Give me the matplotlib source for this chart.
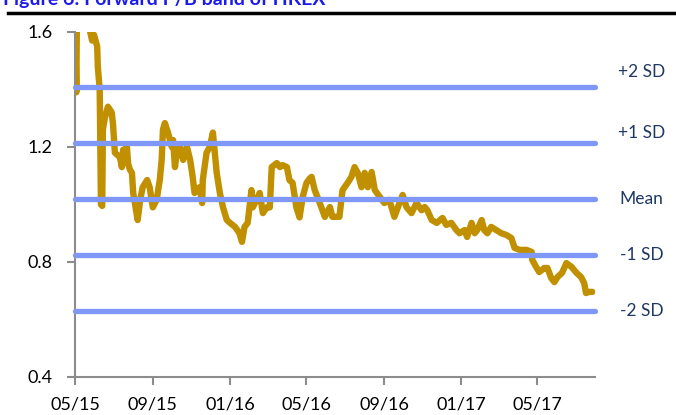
import matplotlib
matplotlib.use("Agg")
import matplotlib.pyplot as plt
import matplotlib.dates as mdates
import pandas as pd

plt.rcParams['font.family'] = ['Lato', 'DejaVu Sans']

# forward P/B series
dates = [
    "2015-05-01", "2015-05-03", "2015-05-04", "2015-05-14", "2015-05-22", "2015-05-25",
    "2015-05-28", "2015-05-31", "2015-06-05", "2015-06-06", "2015-06-09", "2015-06-11",
    "2015-06-13", "2015-06-14", "2015-06-17", "2015-06-22", "2015-06-25", "2015-06-28",
    "2015-06-30", "2015-07-03", "2015-07-08", "2015-07-11", "2015-07-14", "2015-07-16",
    "2015-07-19", "2015-07-22", "2015-07-24", "2015-07-27", "2015-07-30", "2015-08-01",
    "2015-08-04", "2015-08-08", "2015-08-12", "2015-08-16", "2015-08-23", "2015-08-27",
    "2015-09-01", "2015-09-07", "2015-09-12", "2015-09-15", "2015-09-17", "2015-09-20",
    "2015-09-25", "2015-10-01", "2015-10-03", "2015-10-06", "2015-10-09", "2015-10-14",
    "2015-10-19", "2015-10-25", "2015-10-30", "2015-11-03", "2015-11-06", "2015-11-14",
    "2015-11-18", "2015-11-19", "2015-11-25", "2015-11-30", "2015-12-05", "2015-12-08",
    "2015-12-11", "2015-12-16", "2015-12-21", "2015-12-27", "2016-01-01", "2016-01-09",
    "2016-01-16", "2016-01-20", "2016-01-24", "2016-01-29", "2016-02-04", "2016-02-06",
    "2016-02-12", "2016-02-17", "2016-02-22", "2016-02-28", "2016-03-04", "2016-03-07",
    "2016-03-15", "2016-03-20", "2016-03-24", "2016-03-31", "2016-04-04", "2016-04-09",
    "2016-04-15", "2016-04-20", "2016-04-25", "2016-05-01", "2016-05-06", "2016-05-09",
    "2016-05-14", "2016-05-22", "2016-05-30", "2016-06-07", "2016-06-11", "2016-06-22",
    "2016-06-27", "2016-07-05", "2016-07-11", "2016-07-16", "2016-07-21", "2016-07-27",
    "2016-08-01", "2016-08-06", "2016-08-12", "2016-08-17", "2016-08-25", "2016-09-01",
    "2016-09-09", "2016-09-17", "2016-09-25", "2016-09-30", "2016-10-06", "2016-10-14",
    "2016-10-22", "2016-10-30", "2016-11-04", "2016-11-08", "2016-11-15", "2016-11-23",
    "2016-12-02", "2016-12-08", "2016-12-16", "2016-12-24", "2016-12-29", "2017-01-06",
    "2017-01-10", "2017-01-17", "2017-01-22", "2017-01-26", "2017-02-02", "2017-02-06",
    "2017-02-11", "2017-02-17", "2017-02-25", "2017-03-05", "2017-03-13", "2017-03-21",
    "2017-03-26", "2017-04-03", "2017-04-14", "2017-04-22", "2017-04-23", "2017-04-29",
    "2017-05-04", "2017-05-12", "2017-05-17", "2017-05-23", "2017-05-28", "2017-06-02",
    "2017-06-09", "2017-06-16", "2017-06-24", "2017-07-02", "2017-07-09", "2017-07-14",
    "2017-07-17", "2017-07-22", "2017-07-27",
]
pb = [
    1.65, 1.39, 1.66, 1.70, 1.63, 1.60,
    1.57, 1.59, 1.55, 1.48, 1.40, 1.00,
    0.995, 1.26, 1.30, 1.34, 1.33, 1.32,
    1.28, 1.18, 1.17, 1.165, 1.13, 1.19,
    1.19, 1.20, 1.14, 1.12, 1.11, 1.04,
    1.00, 0.946, 1.016, 1.06, 1.085, 1.06,
    0.99, 1.016, 1.085, 1.155, 1.26, 1.283,
    1.25, 1.20, 1.224, 1.13, 1.18, 1.20,
    1.155, 1.20, 1.155, 1.096, 1.04, 1.06,
    1.005, 1.085, 1.18, 1.20, 1.25, 1.18,
    1.11, 1.04, 0.99, 0.946, 0.936, 0.922,
    0.90, 0.87, 0.922, 0.936, 1.05, 0.99,
    1.016, 1.04, 0.97, 0.99, 0.99, 1.13,
    1.144, 1.13, 1.137, 1.13, 1.085, 1.075,
    0.99, 0.955, 1.026, 1.075, 1.09, 1.096,
    1.05, 1.005, 0.957, 0.991, 0.957, 0.957,
    1.05, 1.075, 1.096, 1.13, 1.11, 1.06,
    1.11, 1.06, 1.113, 1.05, 1.026, 1.005,
    1.016, 0.957, 1.005, 1.033, 0.991, 0.97,
    1.005, 0.98, 0.991, 0.98, 0.946, 0.936,
    0.953, 0.929, 0.936, 0.911, 0.90, 0.911,
    0.887, 0.936, 0.90, 0.911, 0.946, 0.911,
    0.90, 0.922, 0.911, 0.90, 0.894, 0.883,
    0.849, 0.842, 0.842, 0.835, 0.807, 0.783,
    0.765, 0.779, 0.779, 0.744, 0.73, 0.748,
    0.762, 0.796, 0.783, 0.762, 0.748, 0.727,
    0.692, 0.696, 0.696,
]

band_names = ["+2 SD", "+1 SD", "Mean", "-1 SD", "-2 SD"]
band_values = [1.41, 1.215, 1.02, 0.825, 0.63]
label_y = [1.46, 1.25, 1.02, 0.825, 0.63]

x = pd.to_datetime(dates)

fig = plt.figure(figsize=(6.76, 4.15), dpi=100)
ax = fig.add_axes([0.111, 0.0916, 0.769, 0.8314])

ax.plot(x, pb, color="#C09000", lw=4.6, solid_joinstyle="round",
        solid_capstyle="round", zorder=2)

for v, name, ly in zip(band_values, band_names, label_y):
    ax.axhline(v, color="#7F98F7", lw=3.8, solid_capstyle="round",
               clip_on=False, zorder=3)
    ax.text(1.09, ly, name, transform=ax.get_yaxis_transform(),
            ha="center", va="center", fontsize=12.5, color="#1F3864")

ax.set_xlim(pd.Timestamp("2015-05-01"), pd.Timestamp("2017-07-31"))
ax.set_ylim(0.4, 1.6)
ax.set_yticks([0.4, 0.8, 1.2, 1.6])
ax.set_yticklabels(["0.4", "0.8", "1.2", "1.6"])
ax.xaxis.set_major_locator(mdates.MonthLocator(bymonth=[1, 5, 9]))
ax.xaxis.set_major_formatter(mdates.DateFormatter("%m/%y"))

for s in ["top", "right"]:
    ax.spines[s].set_visible(False)
for s in ["left", "bottom"]:
    ax.spines[s].set_color("#8C8C8C")
    ax.spines[s].set_linewidth(1.5)
ax.tick_params(axis="both", colors="#8C8C8C", width=1.5, length=6,
               labelcolor="black", labelsize=13)
ax.tick_params(axis="x", pad=8)
ax.tick_params(axis="y", pad=10)

# report heading (cut off at the top, as in the source) and rule
fig.text(0.004, 1 - 5 / 415, "Figure 6: Forward P/B band of HKEX",
         color="#1A1AF0", fontsize=14, fontweight="bold", va="baseline")
fig.add_artist(plt.Line2D([8 / 676, 1], [1 - 13 / 415, 1 - 13 / 415],
                          color="black", lw=2.5))

fig.savefig("out.png", dpi=100)
